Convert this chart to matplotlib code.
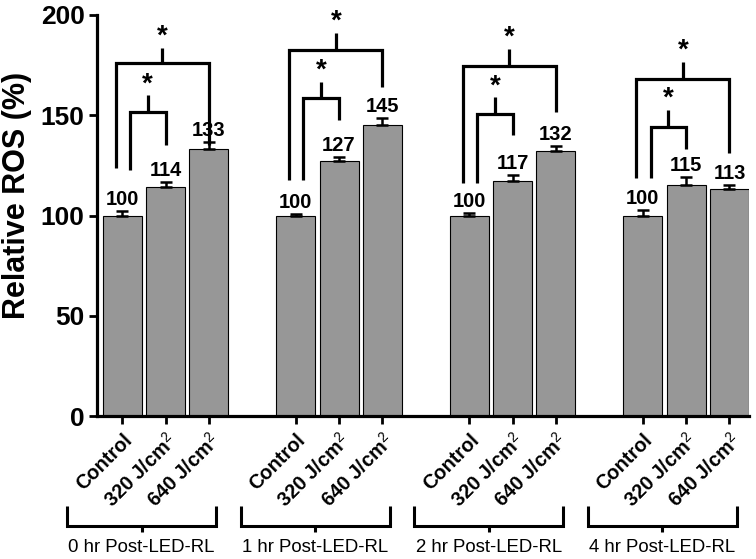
import matplotlib
matplotlib.use("Agg")
import matplotlib.pyplot as plt
import matplotlib.transforms as mtransforms
import numpy as np

plt.rcParams['font.family'] = ['Liberation Sans', 'DejaVu Sans']
plt.rcParams['mathtext.fontset'] = 'custom'
plt.rcParams['mathtext.rm'] = 'Liberation Sans'
plt.rcParams['mathtext.it'] = 'Liberation Sans:italic'
plt.rcParams['mathtext.bf'] = 'Liberation Sans:bold'

# ---- data ----
groups = ['0 hr Post-LED-RL', '1 hr Post-LED-RL', '2 hr Post-LED-RL', '4 hr Post-LED-RL']
conditions = ['Control', '320 J/cm$^{2}$', '640 J/cm$^{2}$']
values = [[100, 114, 133], [100, 127, 145], [100, 117, 132], [100, 115, 113]]
errors = [[2, 2.5, 3.5], [0.5, 2, 3.5], [1, 3, 2.5], [2.5, 4, 2]]
value_labels = [['100', '114', '133'], ['100', '127', '145'], ['100', '117', '132'], ['100', '115', '113']]

# significance brackets (y in data units)
outer_left_bottom = [123.7, 117.7, 116.2, 118.7]
outer_right_bottom = [135, 164, 151.6, 131]
outer_top = [176, 182.5, 174.6, 168]
outer_stem_top = [183.5, 191, 183, 176.6]
inner_left_bottom = [122.7, 117.7, 116.2, 118.7]
inner_right_bottom = [135, 147.6, 140, 133]
inner_top = [151.6, 158.6, 150.6, 144]
inner_stem_top = [160, 166.6, 159, 152.6]
yticks = [0, 50, 100, 150, 200]

W, H = 756, 559
fig = plt.figure(figsize=(W / 100, H / 100), dpi=100)
ax = fig.add_axes([97 / W, 1 - 416 / H, (749 - 97) / W, (416 - 15) / H])

bar_color = '#979797'
xpos = []
for g in range(len(groups)):
    for c in range(len(conditions)):
        xpos.append(g * 4 + c)
xpos = np.array(xpos)
vals = np.array(values).ravel()
errs = np.array(errors).ravel()

ax.bar(xpos, vals, width=0.9, color=bar_color, edgecolor='black', linewidth=0.8, zorder=2)
ax.errorbar(xpos, vals, yerr=[np.zeros_like(errs), errs], fmt='none', ecolor='black',
            elinewidth=1.8, capsize=4, capthick=1.8, zorder=3)

labs = np.array(value_labels).ravel()
for x, v, e, t in zip(xpos, vals, errs, labs):
    ax.annotate(t, (x, v + e), xytext=(0, 1.5), textcoords='offset points',
                ha='center', va='bottom', fontsize=14.5, fontweight='bold')

lw_br = 2.3
for g in range(len(groups)):
    c0 = g * 4
    # outer bracket
    xl, xr = c0 - 0.15, c0 + 2
    xm = (xl + xr) / 2
    ax.plot([xl, xl, xr, xr], [outer_left_bottom[g], outer_top[g], outer_top[g], outer_right_bottom[g]],
            color='black', lw=lw_br, solid_capstyle='butt', solid_joinstyle='miter', clip_on=False, zorder=4)
    ax.plot([xm, xm], [outer_top[g], outer_stem_top[g]], color='black', lw=lw_br,
            solid_capstyle='butt', clip_on=False, zorder=4)
    ax.text(xm, outer_stem_top[g] - 1, '*', ha='center', va='bottom', fontsize=20,
            fontweight='bold', clip_on=False)
    # inner bracket
    xl, xr = c0 + 0.18, c0 + 1
    xm = (xl + xr) / 2
    ax.plot([xl, xl, xr, xr], [inner_left_bottom[g], inner_top[g], inner_top[g], inner_right_bottom[g]],
            color='black', lw=lw_br, solid_capstyle='butt', solid_joinstyle='miter', clip_on=False, zorder=4)
    ax.plot([xm, xm], [inner_top[g], inner_stem_top[g]], color='black', lw=lw_br,
            solid_capstyle='butt', clip_on=False, zorder=4)
    ax.text(xm, inner_stem_top[g] - 1, '*', ha='center', va='bottom', fontsize=20,
            fontweight='bold', clip_on=False)

ax.set_xlim(-0.58, 14.45)
ax.set_ylim(0, 200)
ax.set_yticks(yticks)
ax.set_yticklabels([str(t) for t in yticks], fontsize=19, fontweight='bold')
ax.set_xticks(xpos)
ax.set_xticklabels(conditions * len(groups), rotation=45, ha='right', va='top',
                   rotation_mode='anchor', fontsize=14.3, fontweight='bold')
ax.tick_params(axis='both', width=2, length=6, direction='out', pad=3)
ax.tick_params(axis='x', pad=4)
for s in ['top', 'right']:
    ax.spines[s].set_visible(False)
for s in ['left', 'bottom']:
    ax.spines[s].set_linewidth(2.3)
ax.set_ylabel('Relative ROS (%)', fontsize=22, fontweight='bold')
ax.yaxis.set_label_coords(-0.10, 0.551)

# group brackets below axis
trans = mtransforms.blended_transform_factory(ax.transData, fig.transFigure)
y_top = 1 - 506 / H
y_line = 1 - 526 / H
y_stem = 1 - 532 / H
for g, name in enumerate(groups):
    c = g * 4 + 1 - 0.55
    xl, xr = c - 1.72, c + 1.72
    fig.add_artist(plt.Line2D([xl, xl, xr, xr], [y_top, y_line, y_line, y_top], transform=trans,
                              color='black', lw=2.2, solid_joinstyle='miter', solid_capstyle='butt'))
    fig.add_artist(plt.Line2D([c, c], [y_line, y_stem], transform=trans, color='black', lw=2.2,
                              solid_capstyle='butt'))
    fig.text(c, 1 - 548 / H, name, transform=trans, ha='center', va='center', fontsize=13.4)

fig.savefig('out.png', dpi=100)
